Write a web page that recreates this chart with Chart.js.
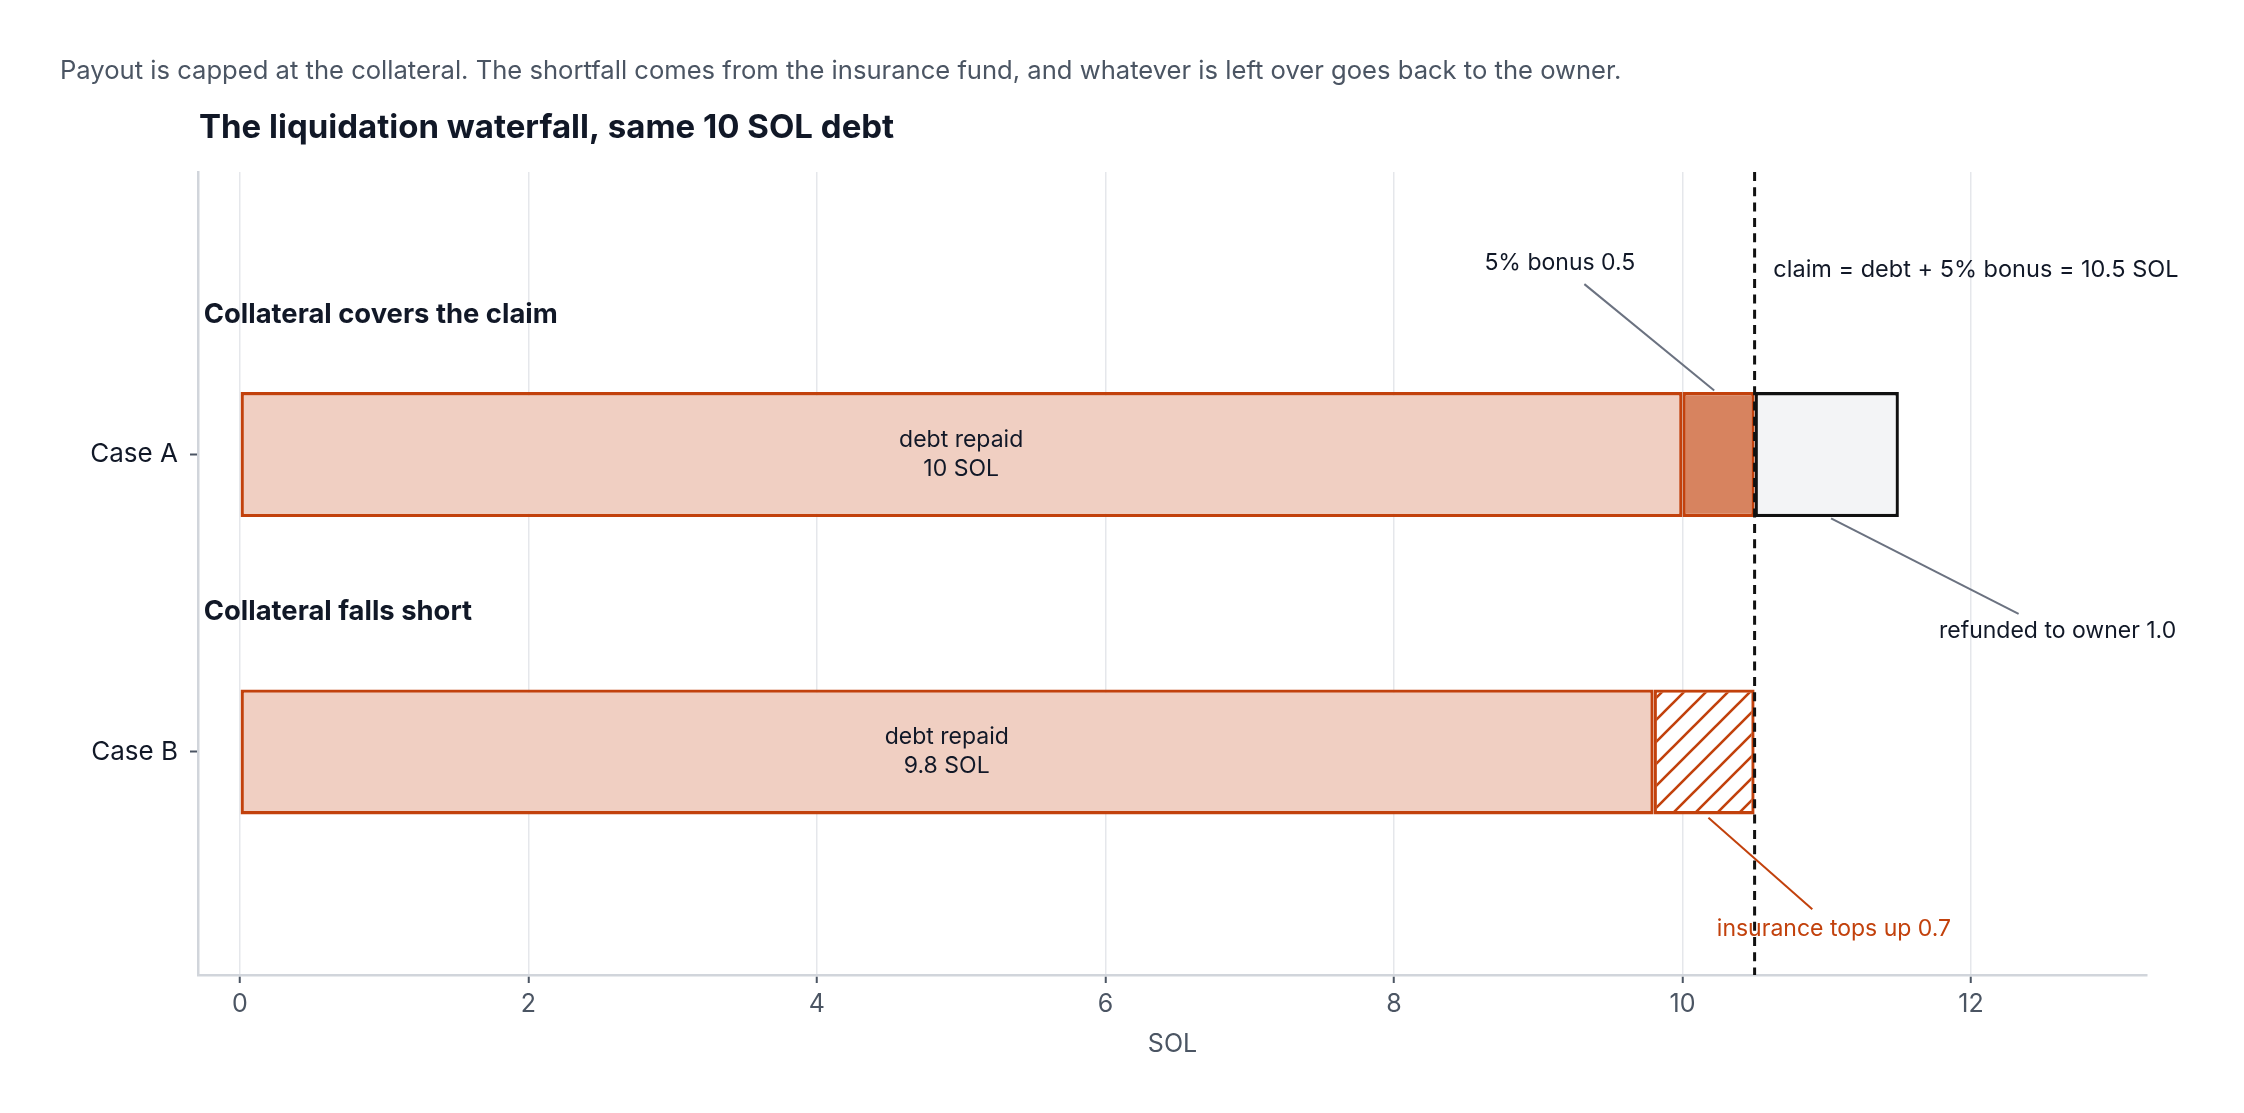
<!DOCTYPE html>
<html>
<head>
<meta charset="utf-8">
<script src="https://cdn.jsdelivr.net/npm/chart.js@4.4.1/dist/chart.umd.min.js"></script>
<style>
html,body{margin:0;padding:0;background:#ffffff;}
canvas{display:block;}
</style>
</head>
<body>
<canvas id="chart" width="2244" height="1113"></canvas>
<script>
// ---------------- data ----------------
const categories = ['Case A', 'Case B'];
const groupHeadings = ['Collateral covers the claim', 'Collateral falls short'];
const debtRepaid = [10, 9.8];
const liquidationBonus = [0.5, 0];
const ownerRefund = [1.0, 0];
const insuranceTopUp = [0, 0.7];
const claimValue = 10.5;
const xTickValues = [0, 2, 4, 6, 8, 10, 12];

const subtitleText = 'Payout is capped at the collateral. The shortfall comes from the insurance fund, and whatever is left over goes back to the owner.';
const titleText = 'The liquidation waterfall, same 10 SOL debt';
const xAxisTitle = 'SOL';

// ---------------- styles ----------------
const ORANGE = '#c2410c';
const LIGHT = '#f0cfc2';
const DARK = '#d7835f';
const INK = '#111827';
const GREY_TEXT = '#4b5563';
const LEADER = '#6b7280';
const FONT = 'Inter';

function hatchPattern() {
  const s = 22;
  const c = document.createElement('canvas');
  c.width = s; c.height = s;
  const g = c.getContext('2d');
  g.fillStyle = '#ffffff';
  g.fillRect(0, 0, s, s);
  g.strokeStyle = ORANGE;
  g.lineWidth = 2.6;
  g.beginPath();
  g.moveTo(-2, s + 2); g.lineTo(s + 2, -2);
  g.moveTo(-3, 3); g.lineTo(3, -3);
  g.moveTo(s - 3, s + 3); g.lineTo(s + 3, s - 3);
  g.stroke();
  return g.createPattern(c, 'repeat');
}

// build floating segments from the named arrays
const debtData = categories.map((c, i) => ({ x: [0, debtRepaid[i]], y: i }));
const bonusData = categories
  .map((c, i) => ({ x: [debtRepaid[i], debtRepaid[i] + liquidationBonus[i]], y: i, v: liquidationBonus[i] }))
  .filter(d => d.v > 0);
const refundData = categories
  .map((c, i) => ({ x: [debtRepaid[i] + liquidationBonus[i], debtRepaid[i] + liquidationBonus[i] + ownerRefund[i]], y: i, v: ownerRefund[i] }))
  .filter(d => d.v > 0);
const insuranceData = categories
  .map((c, i) => ({ x: [debtRepaid[i], debtRepaid[i] + insuranceTopUp[i]], y: i, v: insuranceTopUp[i] }))
  .filter(d => d.v > 0);

const barCommon = {
  grouped: false,
  barPercentage: 0.42,
  categoryPercentage: 1,
  borderSkipped: false,
  borderWidth: 3.3
};

// annotations (positions in data units)
const notes = [
  { text: '5% bonus 0.5', x: 9.15, y: -0.645, align: 'center', color: INK, size: 23,
    leader: [9.32, -0.573, 10.22, -0.215], leaderColor: LEADER },
  { text: 'claim = debt + 5% bonus = 10.5 SOL', x: 10.63, y: -0.62, align: 'left', color: INK, size: 23.5 },
  { text: 'refunded to owner 1.0', x: 12.6, y: 0.592, align: 'center', color: INK, size: 23,
    leader: [11.03, 0.215, 12.33, 0.536], leaderColor: LEADER },
  { text: 'insurance tops up 0.7', x: 11.05, y: 1.595, align: 'center', color: ORANGE, size: 23,
    leader: [10.18, 1.221, 10.90, 1.529], leaderColor: ORANGE }
];

const notesPlugin = {
  id: 'notesPlugin',
  afterDatasetsDraw(chart) {
    const { ctx, chartArea, scales } = chart;
    const xs = scales.x, ys = scales.y;
    ctx.save();
    // inside-bar labels
    ctx.fillStyle = INK;
    ctx.font = `23px ${FONT}`;
    ctx.textAlign = 'center';
    ctx.textBaseline = 'middle';
    categories.forEach((c, i) => {
      const px = xs.getPixelForValue(debtRepaid[i] / 2);
      const py = ys.getPixelForValue(i);
      ctx.fillText('debt repaid', px, py - 14.5);
      ctx.fillText(debtRepaid[i] + ' SOL', px, py + 14.5);
    });
    // group headings
    ctx.font = `700 27.4px ${FONT}`;
    ctx.textAlign = 'left';
    groupHeadings.forEach((h, i) => {
      ctx.fillText(h, xs.getPixelForValue(-0.25), ys.getPixelForValue(i - 0.47));
    });
    // claim dashed line
    const cx = xs.getPixelForValue(claimValue);
    ctx.strokeStyle = '#111111';
    ctx.lineWidth = 3;
    ctx.setLineDash([9, 6.3]);
    ctx.beginPath();
    ctx.moveTo(cx, chartArea.top);
    ctx.lineTo(cx, chartArea.bottom);
    ctx.stroke();
    ctx.setLineDash([]);
    // notes + leaders
    notes.forEach(n => {
      if (n.leader) {
        ctx.strokeStyle = n.leaderColor;
        ctx.lineWidth = 2;
        ctx.beginPath();
        ctx.moveTo(xs.getPixelForValue(n.leader[0]), ys.getPixelForValue(n.leader[1]));
        ctx.lineTo(xs.getPixelForValue(n.leader[2]), ys.getPixelForValue(n.leader[3]));
        ctx.stroke();
      }
      ctx.fillStyle = n.color;
      ctx.font = `${n.size}px ${FONT}`;
      ctx.textAlign = n.align;
      ctx.textBaseline = 'middle';
      ctx.fillText(n.text, xs.getPixelForValue(n.x), ys.getPixelForValue(n.y));
    });
    ctx.restore();
  },
  afterDraw(chart) {
    const { ctx } = chart;
    ctx.save();
    ctx.textBaseline = 'middle';
    ctx.textAlign = 'left';
    ctx.fillStyle = GREY_TEXT;
    ctx.font = `25.6px ${FONT}`;
    ctx.fillText(subtitleText, 60, 71);
    ctx.fillStyle = INK;
    ctx.font = `bold 33px ${FONT}`;
    ctx.fillText(titleText, 199, 128);
    ctx.restore();
  }
};

new Chart(document.getElementById('chart'), {
  type: 'bar',
  data: {
    datasets: [
      Object.assign({ label: 'refunded to owner', data: refundData, backgroundColor: '#f3f4f6', borderColor: '#111111', order: 0 }, barCommon),
      Object.assign({ label: '5% bonus', data: bonusData, backgroundColor: DARK, borderColor: ORANGE, order: 1 }, barCommon),
      Object.assign({ label: 'insurance tops up', data: insuranceData, backgroundColor: hatchPattern(), borderColor: ORANGE, order: 1 }, barCommon),
      Object.assign({ label: 'debt repaid', data: debtData, backgroundColor: LIGHT, borderColor: ORANGE, order: 2 }, barCommon)
    ]
  },
  options: {
    indexAxis: 'y',
    responsive: false,
    devicePixelRatio: 1,
    animation: false,
    layout: { padding: { top: 172, right: 97, left: 0, bottom: 0 } },
    plugins: {
      legend: { display: false },
      tooltip: { enabled: false },
      title: { display: false }
    },
    scales: {
      x: {
        type: 'linear',
        min: -0.29,
        max: 13.22,
        offset: false,
        afterBuildTicks: s => { s.ticks = xTickValues.map(v => ({ value: v })); },
        afterFit: s => { s.height = 138; },
        grid: { color: '#e5e7eb', lineWidth: 1.5, drawTicks: true, tickLength: 8, tickColor: GREY_TEXT, tickWidth: 2, offset: false },
        border: { display: true, color: '#d1d5db', width: 2.5 },
        ticks: { font: { family: FONT, size: 25 }, color: GREY_TEXT, padding: 6, maxRotation: 0 },
        title: { display: true, text: xAxisTitle, font: { family: FONT, size: 25 }, color: GREY_TEXT, padding: { top: 0, bottom: 54 } }
      },
      y: {
        type: 'linear',
        reverse: true,
        min: -0.95,
        max: 1.75,
        offset: false,
        afterBuildTicks: s => { s.ticks = categories.map((c, i) => ({ value: i })); },
        afterFit: s => { s.width = 198; },
        grid: { drawOnChartArea: false, drawTicks: true, tickLength: 8, tickColor: GREY_TEXT, tickWidth: 2, offset: false },
        border: { display: true, color: '#d1d5db', width: 2.5 },
        ticks: { callback: v => categories[v], font: { family: FONT, size: 26 }, color: INK, padding: 12 }
      }
    }
  },
  plugins: [notesPlugin]
});
</script>
</body>
</html>
